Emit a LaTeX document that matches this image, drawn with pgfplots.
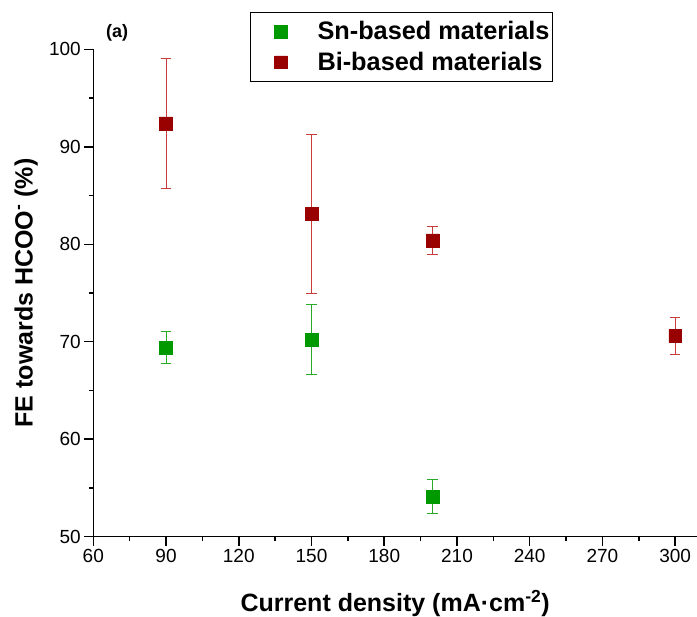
\documentclass[border=0pt]{standalone}
\usepackage{fontspec}
\setmainfont{Liberation Sans}
\usepackage{pgfplots}
\usepackage{pgfplotstable}
\pgfplotsset{compat=1.18}
\definecolor{sngreen}{RGB}{0,153,0}
\definecolor{bired}{RGB}{153,0,0}
\definecolor{errgreen}{RGB}{40,170,40}
\definecolor{errred}{RGB}{200,60,60}
\pgfdeclareplotmark{rsq}{%
  \pgfsetcornersarced{\pgfpoint{0.4\pgfplotmarksize}{0.4\pgfplotmarksize}}%
  \pgfpathmoveto{\pgfqpoint{-\pgfplotmarksize}{0pt}}%
  \pgfpathlineto{\pgfqpoint{-\pgfplotmarksize}{\pgfplotmarksize}}%
  \pgfpathlineto{\pgfqpoint{\pgfplotmarksize}{\pgfplotmarksize}}%
  \pgfpathlineto{\pgfqpoint{\pgfplotmarksize}{-\pgfplotmarksize}}%
  \pgfpathlineto{\pgfqpoint{-\pgfplotmarksize}{-\pgfplotmarksize}}%
  \pgfpathclose
  \pgfusepathqfillstroke}
\pgfplotstableread{
x y e
90 69.4 1.6
150 70.2 3.6
200 54.1 1.75
}\sndata
\pgfplotstableread{
x y e
90 92.4 6.7
150 83.1 8.2
200 80.4 1.4
300 70.6 1.9
}\bidata
\begin{document}
\begin{tikzpicture}
\begin{axis}[
  scale only axis, width=603.7pt, height=487.4pt,
  xmin=60, xmax=309, ymin=50, ymax=100,
  clip=false,
  axis x line*=bottom, axis y line*=left,
  axis line style={line width=1.5pt},
  every tick/.style={line width=1.5pt, black},
  tick align=outside, major tick length=9pt, minor tick length=4.5pt,
  xtick={60,90,...,300}, ytick={50,60,...,100},
  minor x tick num=1, minor y tick num=1,
  tick label style={font=\fontsize{19}{22}\selectfont},
  /pgf/number format/assume math mode=true,
  xlabel={Current density (mA·cm\textsuperscript{-2})},
  ylabel={FE towards HCOO\textsuperscript{-} (\%)},
  label style={font=\bfseries\fontsize{25}{29}\selectfont},
  xlabel style={at={(axis description cs:0.5,-0.1539)}, anchor=base},
  ylabel style={at={(axis description cs:-0.1005,0.5)}, anchor=base},
  legend style={at={(axis description cs:0.2596,1.0766)}, anchor=north west,
    draw=black, line width=1pt, inner xsep=1pt, inner ysep=8.2pt,
    row sep=8.8pt, font=\bfseries\fontsize{25.3}{29}\selectfont,
    nodes={inner xsep=2pt, inner ysep=1pt}},
  legend cell align=left,
  legend image code/.code={\path (0pt,0pt) (63pt,0pt); \draw[#1] plot coordinates {(29pt,0pt)};},
]
\addplot+[only marks, mark=rsq, mark size=6.4pt,
  mark options={draw=sngreen, fill=sngreen, line width=0.5pt},
  error bars/.cd, y dir=both, y explicit,
  error bar style={color=errgreen, line width=1pt},
  error mark options={rotate=90, mark size=5.3pt, color=errgreen, line width=1pt}]
  table[x=x, y=y, y error=e] {\sndata};
\addlegendentry{Sn-based materials}
\addplot+[only marks, mark=rsq, mark size=6.4pt,
  mark options={draw=bired, fill=bired, line width=0.5pt},
  error bars/.cd, y dir=both, y explicit,
  error bar style={color=errred, line width=1pt},
  error mark options={rotate=90, mark size=5.3pt, color=errred, line width=1pt}]
  table[x=x, y=y, y error=e] {\bidata};
\addlegendentry{Bi-based materials}
\node[anchor=west, inner sep=0pt, font=\bfseries\fontsize{18}{21}\selectfont] at (axis description cs:0.021,1.0334) {(a)};
\end{axis}
\pgfresetboundingbox
\path[use as bounding box] (-93.3pt,-80.3pt) rectangle (603.7pt,536.7pt);
\end{tikzpicture}
\end{document}
